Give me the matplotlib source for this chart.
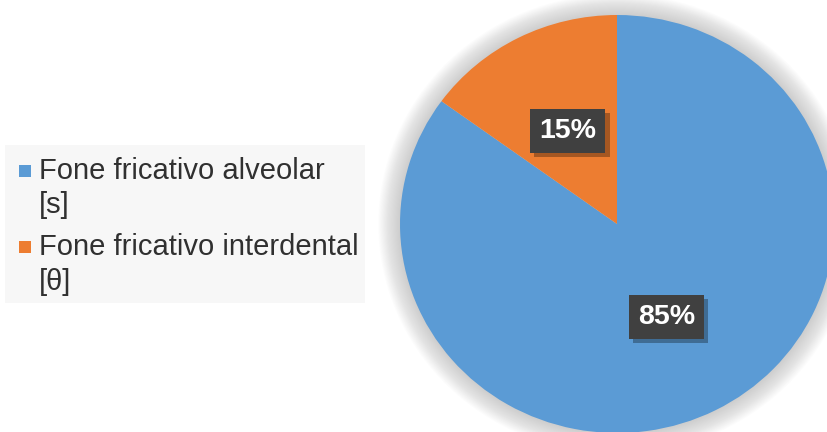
import matplotlib.pyplot as plt
from matplotlib.patches import Ellipse, Rectangle
import matplotlib.patheffects as pe

# Dati
categorie = ['Fone fricativo alveolar\n[s]', 'Fone fricativo interdental\n[θ]']
percentuali = [85, 15]
colori = ['#5B9BD5', '#ED7D31']

W, H = 827, 432
fig = plt.figure(figsize=(W / 100, H / 100), dpi=100)
fig.patch.set_facecolor('white')
ax = fig.add_axes([0, 0, 1, 1])

# Centro e raggi della torta in pixel
cx, cy = 617, 224
rx, ry = 217, 209

# Ombra morbida attorno alla torta
for k in range(20, 0, -1):
    s = 1 + k * 0.005
    ax.add_patch(Ellipse((0, 0), 2 * s, 2 * s, color='#909090', alpha=0.025, lw=0, zorder=0))

wedges, texts, autotexts = ax.pie(
    percentuali, colors=colori, startangle=90, counterclock=False,
    autopct=lambda p: f'{p:.0f}%', pctdistance=0.5,
    textprops=dict(color='white', fontsize=20.5, fontweight='bold', family='Liberation Sans'),
)
for w in wedges:
    w.set_zorder(1)

for t in autotexts:
    t.set_bbox(dict(boxstyle='square,pad=0.32', facecolor='#404040', edgecolor='none'))
    t.set_zorder(3)
    t.get_bbox_patch().set_path_effects([
        pe.SimplePatchShadow(offset=(3, -3), shadow_rgbFace='black', alpha=0.3),
        pe.Normal(),
    ])

ax.set_aspect('auto')
ax.set_xlim(-cx / rx, (W - cx) / rx)
ax.set_ylim(-(H - cy) / ry, cy / ry)
ax.axis('off')

# Legenda a sinistra
fig.patches.append(Rectangle((5 / W, 1 - 303 / H), 360 / W, 158 / H,
                             transform=fig.transFigure, facecolor='#f7f7f7',
                             edgecolor='none', zorder=0))
righe_y = [(171, 205), (247, 282)]
for lab, col, (y1, y2) in zip(categorie, colori, righe_y):
    fig.patches.append(Rectangle((19 / W, 1 - (y1 + 6) / H), 12 / W, 12 / H,
                                 transform=fig.transFigure, facecolor=col,
                                 edgecolor='none', zorder=1))
    riga1, riga2 = lab.split('\n')
    for txt, y in ((riga1, y1), (riga2, y2)):
        fig.text(39 / W, 1 - y / H, txt, fontsize=21, color='#303030',
                 family='Liberation Sans', va='center', ha='left')

plt.savefig('out.png', dpi=100)
